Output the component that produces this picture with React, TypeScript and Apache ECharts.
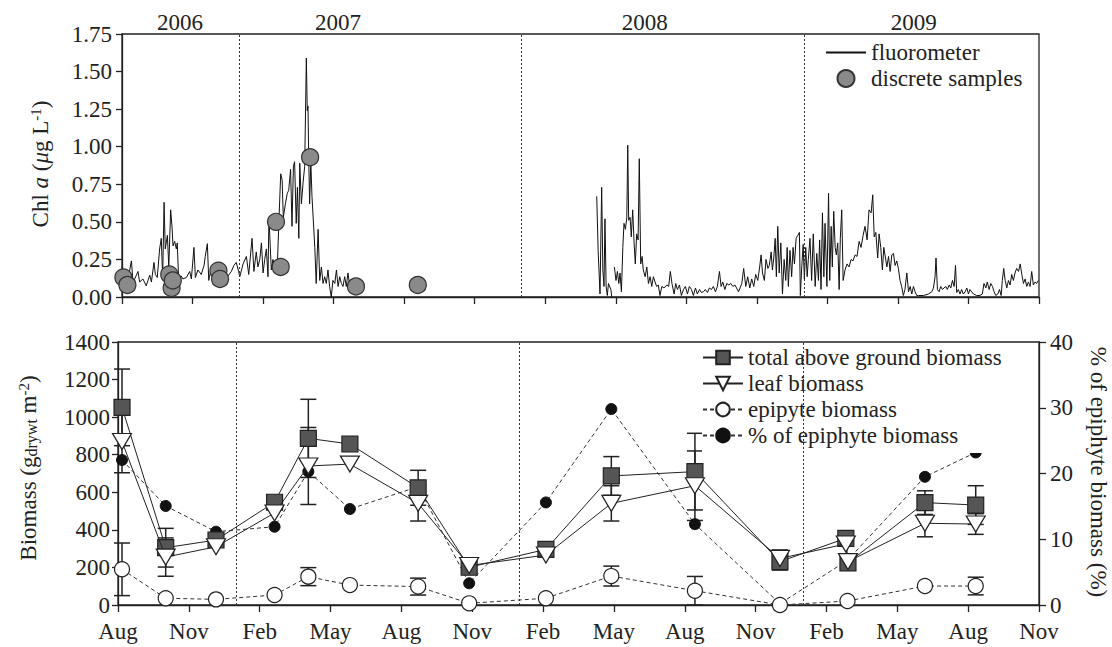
import React, { useEffect, useRef } from 'react';
import * as echarts from 'echarts';

const FONT = 'Liberation Serif, Times New Roman, serif';
const INK = '#222';
const FS = 23;

// x axis: months since 1 Aug 2006
const monthTickLabels = ['Aug', 'Nov', 'Feb', 'May'];
const yearLabels = ['2006', '2007', '2008', '2009'];
const yearLabelMonths = [2.47, 9.19, 22.23, 33.67];
const yearBoundaryMonths = [5, 17, 29];

// fluorometer Chl a [month, ug/L]
const fluoroSeg1 = [
  [0.0, 0.2], [0.11, 0.14], [0.26, 0.12], [0.4, 0.24], [0.47, 0.1], [0.54, 0.12], [0.68, 0.17], [0.75, 0.1], [0.89, 0.12],
  [1.03, 0.075], [1.18, 0.145], [1.25, 0.1], [1.36, 0.23], [1.42, 0.15], [1.5, 0.13], [1.6, 0.32], [1.67, 0.39], [1.73, 0.13],
  [1.79, 0.63], [1.84, 0.32], [1.93, 0.41], [1.99, 0.2], [2.07, 0.58], [2.13, 0.46], [2.17, 0.34], [2.24, 0.37], [2.31, 0.32],
  [2.35, 0.36], [2.41, 0.11], [2.52, 0.14], [2.59, 0.12], [2.74, 0.13], [2.88, 0.17], [2.95, 0.12], [3.06, 0.33], [3.12, 0.13],
  [3.23, 0.18], [3.37, 0.15], [3.49, 0.21], [3.54, 0.27], [3.63, 0.355], [3.69, 0.11], [3.8, 0.2], [3.94, 0.15], [4.08, 0.17],
  [4.22, 0.13], [4.37, 0.16], [4.51, 0.14], [4.65, 0.17], [4.76, 0.21], [4.86, 0.23], [4.96, 0.17],
  [5.01, 0.135], [5.15, 0.22], [5.29, 0.27], [5.39, 0.15], [5.53, 0.39], [5.61, 0.17], [5.71, 0.3], [5.78, 0.2], [5.86, 0.25],
  [5.93, 0.36], [6.0, 0.16], [6.07, 0.25], [6.14, 0.32], [6.21, 0.135], [6.25, 0.53], [6.35, 0.18], [6.42, 0.25], [6.52, 0.18],
  [6.61, 0.22], [6.66, 0.45], [6.75, 0.82], [6.81, 0.78], [6.86, 0.53], [6.95, 0.62], [7.03, 0.69], [7.09, 0.71], [7.17, 0.85],
  [7.23, 0.47], [7.29, 0.87], [7.34, 0.9], [7.41, 0.49], [7.46, 0.73], [7.52, 0.39], [7.56, 0.89], [7.63, 0.62], [7.7, 0.76],
  [7.77, 0.87], [7.84, 1.59], [7.88, 1.24], [7.91, 1.27], [7.94, 0.93], [7.98, 0.62], [8.03, 0.9], [8.08, 0.67], [8.2, 0.33],
  [8.26, 0.09], [8.34, 0.45], [8.41, 0.11], [8.48, 0.2], [8.55, 0.09], [8.62, 0.135], [8.69, 0.09], [8.76, 0.18], [8.83, 0.07],
  [8.9, 0.0], [8.97, 0.11], [9.05, 0.09], [9.12, 0.18], [9.19, 0.07], [9.26, 0.135], [9.33, 0.09], [9.4, 0.07], [9.47, 0.135],
  [9.54, 0.07], [9.61, 0.16], [9.69, 0.07],
];
const fluoroSeg2 = [
  [20.19, 0.67], [20.25, 0.31], [20.33, 0.02], [20.4, 0.73], [20.45, 0.18], [20.5, 0.07], [20.54, 0.52], [20.59, 0.07],
  [20.64, 0.01], [20.69, 0.09], [20.79, 0.05], [20.83, 0.0],
];
const fluoroSeg3 = [
  [20.94, 0.2], [21.01, 0.11], [21.07, 0.17], [21.13, 0.09], [21.18, 0.16], [21.24, 0.035], [21.3, 0.33], [21.35, 0.49],
  [21.41, 0.45], [21.47, 0.53], [21.51, 1.01], [21.55, 0.51], [21.61, 0.53], [21.66, 0.4], [21.72, 0.58], [21.78, 0.36],
  [21.83, 0.22], [21.89, 0.42], [21.95, 0.38], [22.0, 0.92], [22.06, 0.22], [22.12, 0.27], [22.17, 0.18], [22.25, 0.135],
  [22.32, 0.2], [22.39, 0.09], [22.46, 0.135], [22.53, 0.07], [22.6, 0.135], [22.67, 0.1], [22.74, 0.07], [22.81, 0.08],
  [22.88, 0.01], [22.96, 0.07], [23.05, 0.06], [23.17, 0.08], [23.25, 0.07], [23.32, 0.17], [23.39, 0.09], [23.48, 0.02],
  [23.55, 0.09], [23.62, 0.05], [23.71, 0.08], [23.79, 0.01], [23.88, 0.05], [23.96, 0.07], [24.05, 0.02], [24.13, 0.07],
  [24.22, 0.05], [24.3, 0.01], [24.39, 0.06], [24.47, 0.02], [24.56, 0.05], [24.64, 0.03], [24.73, 0.035], [24.81, 0.05],
  [24.9, 0.03], [24.98, 0.06], [25.07, 0.05], [25.15, 0.07], [25.24, 0.035], [25.32, 0.07], [25.41, 0.17], [25.48, 0.07],
  [25.55, 0.1], [25.64, 0.05], [25.72, 0.09], [25.81, 0.08], [25.89, 0.09], [25.98, 0.07],
  [26.07, 0.08], [26.22, 0.035], [26.36, 0.09], [26.44, 0.19], [26.53, 0.07], [26.61, 0.135], [26.7, 0.06], [26.78, 0.12],
  [26.87, 0.07], [26.95, 0.15], [27.04, 0.11], [27.12, 0.2], [27.18, 0.28], [27.24, 0.16], [27.32, 0.11], [27.39, 0.25],
  [27.47, 0.19], [27.53, 0.21], [27.61, 0.3], [27.66, 0.18], [27.72, 0.26], [27.78, 0.39], [27.83, 0.135], [27.89, 0.47],
  [27.95, 0.16], [28.02, 0.36], [28.09, 0.02], [28.16, 0.25], [28.23, 0.11], [28.29, 0.33], [28.34, 0.07], [28.41, 0.31],
  [28.48, 0.135], [28.54, 0.33], [28.6, 0.22], [28.67, 0.39], [28.74, 0.41], [28.81, 0.43], [28.85, 0.01], [28.91, 0.2],
  [28.97, 0.35], [29.02, 0.12], [29.08, 0.33], [29.14, 0.135], [29.19, 0.25], [29.26, 0.39], [29.33, 0.11], [29.4, 0.42],
  [29.48, 0.07], [29.55, 0.29], [29.62, 0.11], [29.67, 0.38], [29.73, 0.05], [29.79, 0.56], [29.85, 0.135], [29.9, 0.49],
  [29.98, 0.07], [30.05, 0.69], [30.1, 0.11], [30.16, 0.47], [30.21, 0.2], [30.27, 0.57], [30.33, 0.33], [30.38, 0.28],
  [30.44, 0.36], [30.5, 0.05], [30.55, 0.39], [30.61, 0.58], [30.67, 0.11], [30.75, 0.18], [30.84, 0.22], [30.92, 0.2],
  [31.01, 0.25], [31.09, 0.24], [31.18, 0.28], [31.26, 0.27], [31.35, 0.37], [31.43, 0.33], [31.52, 0.41], [31.6, 0.47],
  [31.69, 0.38], [31.77, 0.58], [31.86, 0.56], [31.93, 0.68], [31.99, 0.4], [32.06, 0.43], [32.14, 0.26], [32.2, 0.42],
  [32.27, 0.33], [32.34, 0.18], [32.4, 0.33],
  [32.45, 0.28], [32.53, 0.2], [32.6, 0.27], [32.67, 0.17], [32.74, 0.28], [32.81, 0.29], [32.88, 0.21], [32.95, 0.24],
  [33.02, 0.19], [33.09, 0.11], [33.16, 0.07], [33.23, 0.01], [33.3, 0.05], [33.38, 0.16], [33.45, 0.035], [33.52, 0.07],
  [33.59, 0.02], [33.66, 0.07], [33.73, 0.035], [33.8, 0.01], [33.87, 0.01], [34.09, 0.01], [34.3, 0.02], [34.44, 0.035],
  [34.51, 0.06], [34.58, 0.135], [34.62, 0.26], [34.68, 0.05], [34.75, 0.035], [34.82, 0.07], [34.89, 0.05], [34.96, 0.06],
  [35.04, 0.07], [35.1, 0.05], [35.18, 0.08], [35.25, 0.06], [35.32, 0.11], [35.39, 0.07], [35.45, 0.21], [35.5, 0.03],
  [35.57, 0.05], [35.64, 0.02], [35.71, 0.05], [35.78, 0.02], [35.86, 0.035], [35.93, 0.06], [36.0, 0.02], [36.06, 0.05],
  [36.21, 0.02], [36.35, 0.01], [36.49, 0.01], [36.59, 0.02], [36.66, 0.09], [36.74, 0.06], [36.8, 0.1], [36.88, 0.05],
  [36.95, 0.09], [37.02, 0.07], [37.09, 0.035], [37.16, 0.01], [37.25, 0.02], [37.32, 0.05], [37.39, 0.01], [37.44, 0.11],
  [37.5, 0.19], [37.56, 0.11], [37.63, 0.06], [37.7, 0.11], [37.77, 0.08], [37.84, 0.15], [37.91, 0.11], [37.98, 0.16],
  [38.05, 0.19], [38.13, 0.17], [38.2, 0.22], [38.27, 0.15], [38.34, 0.09], [38.41, 0.12], [38.48, 0.07], [38.55, 0.1],
  [38.62, 0.07], [38.69, 0.17], [38.76, 0.08], [38.83, 0.1], [38.9, 0.09], [38.97, 0.11],
];

// discrete Chl a samples [month, ug/L]
const discreteSamples = [
  [0.06, 0.13], [0.23, 0.08], [2.01, 0.15], [2.11, 0.06], [2.16, 0.11], [4.1, 0.175], [4.17, 0.12],
  [6.55, 0.5], [6.75, 0.2], [8.0, 0.93], [9.95, 0.07], [12.58, 0.08],
];

// biomass sampling
const plantMonths = [0.17, 2.02, 4.15, 6.63, 8.06, 9.82, 12.71, 14.87, 18.12, 20.89, 24.43, 28.03, 30.82, 30.91, 34.17, 36.32];
const totalBiomass = [1052, 305, 346, 547, 887, 857, 624, 201, 296, 687, 710, 231, 355, 224, 545, 532];
const totalSD = [204, 103, 0, 0, 208, 0, 93, 0, 0, 103, 204, 45, 15, 0, 63, 103];
const leafBiomass = [870, 255, 310, 490, 740, 750, 541, 210, 266, 541, 635, 248, 325, 231, 435, 431];
const leafSD = [166, 102, 0, 0, 205, 0, 94, 0, 0, 94, 185, 45, 0, 0, 72, 55];

const epiMonths = [0.17, 2.02, 4.15, 6.63, 8.06, 9.82, 12.71, 14.87, 18.12, 20.89, 24.43, 28.03, 30.89, 34.17, 36.32];
const epiBiomass = [190, 36, 30, 53, 151, 106, 98, 9, 36, 154, 76, 0, 21, 101, 101];
const epiSD = [140, 0, 0, 0, 48, 0, 45, 0, 0, 53, 76, 0, 0, 0, 47];
const epiPercent = [22.05, 15.06, 11.15, 11.9, 20.3, 14.6, 18.0, 3.3, 15.6, 29.8, 12.3, 0.2, 6.8, 19.5, 23.2];

const pairs = (xs: number[], ys: number[]) => xs.map((x, i) => [x, ys[i]]);
const errs = (xs: number[], ys: number[], sd: number[]) =>
  xs.map((x, i) => [x, ys[i] - sd[i], ys[i] + sd[i]]).filter((_, i) => sd[i] > 0);

const axisLine = { show: true, lineStyle: { color: INK, width: 1.3 } };
const axisTick = { show: true, inside: false, length: 7, lineStyle: { color: INK, width: 1.3 } };
const labelStyle = { color: INK, fontSize: FS, fontFamily: FONT };

const errorRender = (params: any, api: any) => {
  const x = api.value(0);
  const lo = api.coord([x, api.value(1)]);
  const hi = api.coord([x, api.value(2)]);
  const hw = 8;
  const style = { stroke: INK, lineWidth: 1.5 };
  return {
    type: 'group',
    children: [
      { type: 'line', shape: { x1: lo[0], y1: lo[1], x2: hi[0], y2: hi[1] }, style },
      { type: 'line', shape: { x1: lo[0] - hw, y1: lo[1], x2: lo[0] + hw, y2: lo[1] }, style },
      { type: 'line', shape: { x1: hi[0] - hw, y1: hi[1], x2: hi[0] + hw, y2: hi[1] }, style },
    ],
  };
};

const dotted = () => ({
  silent: true,
  symbol: 'none',
  label: { show: false },
  lineStyle: { color: '#333', type: [2, 2], width: 1 },
  data: yearBoundaryMonths.map((m) => ({ xAxis: m })),
});

const txt = (extra: any) => ({ fill: INK, fontSize: FS, fontFamily: FONT, ...extra });

function buildOption() {
  const fluoroLine = {
    type: 'line', name: 'fluorometer', xAxisIndex: 0, yAxisIndex: 0, symbol: 'none', showSymbol: false,
    color: '#111', lineStyle: { color: '#111', width: 1 }, z: 2,
  };
  return {
    animation: false,
    backgroundColor: '#fff',
    textStyle: { fontFamily: FONT },
    grid: [
      { left: 122, top: 34, width: 917, height: 263, show: true, borderColor: INK, borderWidth: 1.3, backgroundColor: 'transparent' },
      { left: 118, top: 342, width: 921, height: 263, show: true, borderColor: INK, borderWidth: 1.3, backgroundColor: 'transparent' },
    ],
    xAxis: [
      {
        gridIndex: 0, type: 'value', min: 0, max: 39, interval: 3,
        axisLine, axisTick, axisLabel: { show: false }, splitLine: { show: false },
      },
      {
        gridIndex: 1, type: 'value', min: 0, max: 39, interval: 3,
        axisLine, axisTick, splitLine: { show: false },
        axisLabel: { ...labelStyle, margin: 15, formatter: (v: number) => monthTickLabels[Math.round(v / 3) % 4] },
      },
    ],
    yAxis: [
      {
        gridIndex: 0, type: 'value', min: 0, max: 1.75, interval: 0.25,
        axisLine, axisTick: { ...axisTick, length: 6 }, splitLine: { show: false },
        axisLabel: { ...labelStyle, margin: 10, formatter: (v: number) => v.toFixed(2) },
      },
      {
        gridIndex: 1, type: 'value', min: 0, max: 1400, interval: 200,
        axisLine, axisTick: { ...axisTick, length: 6 }, splitLine: { show: false },
        axisLabel: { ...labelStyle, margin: 8, formatter: (v: number) => String(v) },
      },
      {
        gridIndex: 1, type: 'value', position: 'right', min: 0, max: 40, interval: 10,
        axisLine, axisTick: { ...axisTick, length: 7 }, splitLine: { show: false },
        axisLabel: { ...labelStyle, margin: 11, formatter: (v: number) => String(v) },
      },
    ],
    legend: [
      {
        orient: 'vertical', left: 825, top: 41, padding: 0, itemGap: 3, itemWidth: 40, itemHeight: 17,
        textStyle: { ...labelStyle },
        data: [
          { name: 'fluorometer', itemStyle: { color: 'rgba(0,0,0,0)', borderColor: 'rgba(0,0,0,0)', borderWidth: 0 } },
          { name: 'discrete samples' },
        ],
      },
      {
        orient: 'vertical', left: 702, top: 343, padding: [3, 8, 6, 0], itemGap: 3, itemWidth: 40, itemHeight: 17,
        backgroundColor: '#fff',
        textStyle: { ...labelStyle },
        data: ['total above ground biomass', 'leaf biomass', 'epipyte biomass', '% of epiphyte biomass'],
      },
    ],
    graphic: [
      ...yearLabels.map((t, i) => ({
        type: 'text', x: 122 + yearLabelMonths[i] * (917 / 39), y: 22,
        style: txt({ text: t, textAlign: 'center', textVerticalAlign: 'middle' }),
      })),
      {
        type: 'text', x: 40, y: 164, rotation: Math.PI / 2,
        style: txt({
          text: '{n|Chl }{i|a}{n| (}{i|μ}{n|g L}{s|-1}{n|)}',
          textAlign: 'center', textVerticalAlign: 'middle',
          rich: {
            n: { fontSize: FS, fontFamily: FONT, fill: INK },
            i: { fontSize: FS, fontFamily: FONT, fontStyle: 'italic', fill: INK },
            s: { fontSize: 15, fontFamily: FONT, verticalAlign: 'top', fill: INK },
          },
        }),
      },
      {
        type: 'text', x: 28, y: 468, rotation: Math.PI / 2,
        style: txt({
          text: '{n|Biomass (g}{b|drywt}{n| m}{s|-2}{n|)}',
          textAlign: 'center', textVerticalAlign: 'middle',
          rich: {
            n: { fontSize: FS, fontFamily: FONT, fill: INK },
            b: { fontSize: 16, fontFamily: FONT, verticalAlign: 'bottom', fill: INK },
            s: { fontSize: 15, fontFamily: FONT, verticalAlign: 'top', fill: INK },
          },
        }),
      },
      {
        type: 'text', x: 1098, y: 472, rotation: -Math.PI / 2,
        style: txt({ text: '% of epiphyte biomass (%)', textAlign: 'center', textVerticalAlign: 'middle' }),
      },
    ],
    series: [
      { ...fluoroLine, data: fluoroSeg1, markLine: dotted() },
      { ...fluoroLine, data: fluoroSeg2 },
      { ...fluoroLine, data: fluoroSeg3 },
      {
        type: 'scatter', name: 'discrete samples', xAxisIndex: 0, yAxisIndex: 0, data: discreteSamples,
        symbol: 'circle', symbolSize: 17, z: 3,
        itemStyle: { color: '#8a8a8a', borderColor: '#333', borderWidth: 1.2, opacity: 1 },
      },
      {
        type: 'custom', name: 'errors', xAxisIndex: 1, yAxisIndex: 1, renderItem: errorRender, z: 1,
        encode: { x: 0, y: [1, 2] },
        data: [...errs(plantMonths, totalBiomass, totalSD), ...errs(plantMonths, leafBiomass, leafSD), ...errs(epiMonths, epiBiomass, epiSD)],
      },
      {
        type: 'line', name: '% of epiphyte biomass', xAxisIndex: 1, yAxisIndex: 2, data: pairs(epiMonths, epiPercent),
        symbol: 'circle', symbolSize: 11, z: 2,
        itemStyle: { color: '#111', borderColor: '#111', borderWidth: 1 },
        lineStyle: { color: '#333', width: 1, type: [4, 3] },
        markLine: dotted(),
      },
      {
        type: 'line', name: 'epipyte biomass', xAxisIndex: 1, yAxisIndex: 1, data: pairs(epiMonths, epiBiomass),
        symbol: 'circle', symbolSize: 15, z: 3,
        itemStyle: { color: '#fff', borderColor: INK, borderWidth: 1.2 },
        lineStyle: { color: '#333', width: 1, type: [4, 3] },
      },
      {
        type: 'line', name: 'total above ground biomass', xAxisIndex: 1, yAxisIndex: 1, data: pairs(plantMonths, totalBiomass),
        symbol: 'rect', symbolSize: 16, z: 4,
        itemStyle: { color: '#555', borderColor: INK, borderWidth: 1.2 },
        lineStyle: { color: INK, width: 1 },
      },
      {
        type: 'line', name: 'leaf biomass', xAxisIndex: 1, yAxisIndex: 1, data: pairs(plantMonths, leafBiomass),
        symbol: 'triangle', symbolSize: [19, 16], symbolRotate: 180, z: 5,
        itemStyle: { color: '#fff', borderColor: INK, borderWidth: 1.2 },
        lineStyle: { color: INK, width: 1 },
      },
    ],
  };
}

export default function App() {
  const ref = useRef<HTMLDivElement>(null);
  useEffect(() => {
    if (!ref.current) return;
    const chart = echarts.init(ref.current, undefined, { renderer: 'svg' });
    chart.setOption(buildOption() as any);
    return () => chart.dispose();
  }, []);
  return (
    <div
      ref={ref}
      style={{ position: 'fixed', left: 0, top: 0, width: 1112, height: 647, background: '#fff' }}
    />
  );
}
